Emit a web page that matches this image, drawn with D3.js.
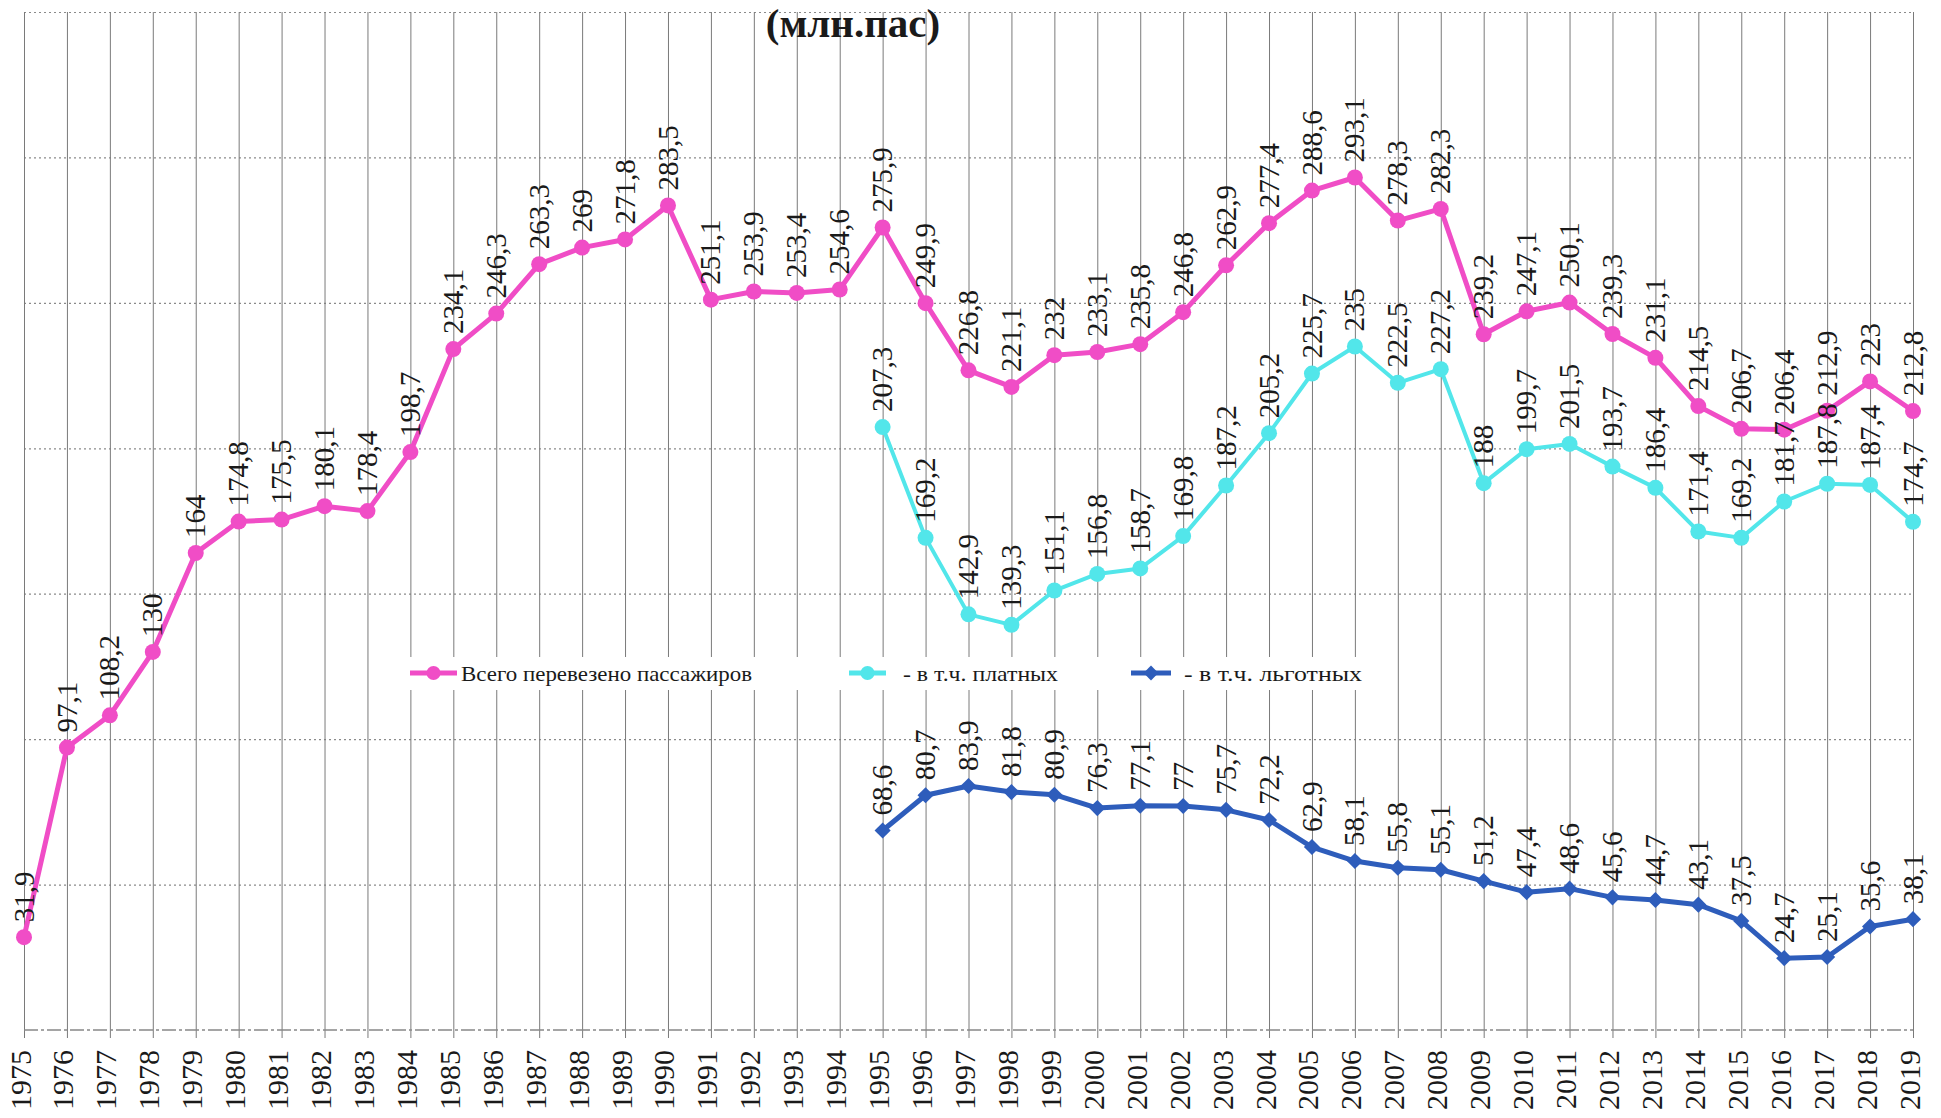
<!DOCTYPE html>
<html><head><meta charset="utf-8">
<script src="https://cdn.jsdelivr.net/npm/d3@7"></script>
<style>body{margin:0;background:#fff}svg{display:block}</style>
</head><body><svg id="c" width="1941" height="1118"></svg>
<script>
const years = [1975,1976,1977,1978,1979,1980,1981,1982,1983,1984,1985,1986,1987,1988,1989,1990,
  1991,1992,1993,1994,1995,1996,1997,1998,1999,2000,2001,2002,2003,2004,2005,2006,2007,2008,2009,
  2010,2011,2012,2013,2014,2015,2016,2017,2018,2019];
const totalValues = [31.9,97.1,108.2,130,164,174.8,175.5,180.1,178.4,198.7,234.1,246.3,263.3,269,271.8,283.5,
  251.1,253.9,253.4,254.6,275.9,249.9,226.8,221.1,232,233.1,235.8,246.8,262.9,277.4,288.6,293.1,278.3,282.3,239.2,
  247.1,250.1,239.3,231.1,214.5,206.7,206.4,212.9,223,212.8];
const subYears = [1995,1996,1997,1998,1999,2000,2001,2002,2003,2004,2005,2006,2007,2008,2009,
  2010,2011,2012,2013,2014,2015,2016,2017,2018,2019];
const paidValues = [207.3,169.2,142.9,139.3,151.1,156.8,158.7,169.8,187.2,205.2,225.7,235,222.5,227.2,188,
  199.7,201.5,193.7,186.4,171.4,169.2,181.7,187.8,187.4,174.7];
const privValues = [68.6,80.7,83.9,81.8,80.9,76.3,77.1,77,75.7,72.2,62.9,58.1,55.8,55.1,51.2,
  47.4,48.6,45.6,44.7,43.1,37.5,24.7,25.1,35.6,38.1];
const gridValues = [50,100,150,200,250,300,350];
const titleText = "(млн.пас)";
const legendLabels = ["Всего перевезено пассажиров", "- в т.ч. платных", "- в т.ч. льготных"];

const FONT = "'Liberation Serif','Times New Roman',serif";
const PINK = "#f04dc6", CYAN = "#52e6ea", BLUE = "#2e5dbb";
const svg = d3.select("#c");
const L = 24, R = 1913, T = 12, B = 1030;
const x = d3.scalePoint().domain(years).range([L, R]);
const y = d3.scaleLinear().domain([0, 350]).range([B, T]);
const fmt = v => String(v).replace(".", ",");

// horizontal gridlines (dotted)
const gy = svg.append("g").attr("transform", `translate(${L},0)`)
  .call(d3.axisLeft(y).tickValues(gridValues).tickSize(-(R - L)).tickFormat(""));
gy.select(".domain").remove();
gy.selectAll("line").attr("stroke", "#8a8a8a").attr("stroke-width", 1.2).attr("stroke-dasharray", "2,3");

// vertical gridlines
const gx = svg.append("g").attr("transform", `translate(0,${B + 8})`)
  .call(d3.axisBottom(x).tickSize(-(B + 8 - T)).tickFormat(""));
gx.select(".domain").remove();
gx.selectAll("line").attr("stroke", "#7a7a7a").attr("stroke-width", 1);

// bottom axis line
svg.append("line").attr("x1", L).attr("x2", R).attr("y1", y(0)).attr("y2", y(0))
  .attr("stroke", "#888").attr("stroke-width", 1.6).attr("stroke-dasharray", "14,3,3,3");

// year labels
const xl = svg.append("g").attr("transform", `translate(0,${B + 20})`)
  .call(d3.axisBottom(x).tickSize(0).tickPadding(0));
xl.select(".domain").remove();
xl.selectAll("text")
  .attr("transform", "rotate(-90)")
  .attr("text-anchor", "end")
  .attr("x", 0).attr("y", 0).attr("dy", "0.2em")
  .attr("font-family", FONT).attr("font-size", 30).attr("fill", "#1a1a1a");

// title
svg.append("text").attr("x", 853).attr("y", 37).attr("text-anchor", "middle")
  .attr("font-family", FONT).attr("font-weight", "bold").attr("font-size", 41)
  .attr("fill", "#1a1a1a").text(titleText);

// legend box
svg.append("rect").attr("x", 370).attr("y", 657).attr("width", 1005).attr("height", 33).attr("fill", "#fff");

function series(xs, vs, color, width, marker) {
  const pts = xs.map((d, i) => [d, vs[i]]);
  svg.append("path").datum(pts)
    .attr("fill", "none").attr("stroke", color).attr("stroke-width", width)
    .attr("stroke-linejoin", "round")
    .attr("d", d3.line().x(d => x(d[0])).y(d => y(d[1])));
  const g = svg.append("g");
  if (marker === "circle") {
    g.selectAll("circle").data(pts).join("circle")
      .attr("cx", d => x(d[0])).attr("cy", d => y(d[1])).attr("r", 8).attr("fill", color);
  } else {
    g.selectAll("path").data(pts).join("path")
      .attr("d", d3.symbol().type(d3.symbolSquare).size(130))
      .attr("transform", d => `translate(${x(d[0])},${y(d[1])}) rotate(45)`)
      .attr("fill", color);
  }
  svg.append("g").selectAll("text").data(pts).join("text")
    .attr("transform", d => `translate(${x(d[0])},${y(d[1]) - 15}) rotate(-90)`)
    .attr("dy", "0.33em").attr("text-anchor", "start")
    .attr("font-family", FONT).attr("font-size", 29).attr("fill", "#1a1a1a")
    .text(d => fmt(d[1]));
}
series(years, totalValues, PINK, 5, "circle");
series(subYears, paidValues, CYAN, 4, "circle");
series(subYears, privValues, BLUE, 5, "diamond");

// legend
const legend = [
  {label: legendLabels[0], color: PINK, x1: 410, x2: 457, tx: 461, m: "circle", w: 291},
  {label: legendLabels[1], color: CYAN, x1: 849, x2: 886, tx: 903, m: "circle", w: 155},
  {label: legendLabels[2], color: BLUE, x1: 1131, x2: 1171, tx: 1184, m: "diamond", w: 178}
];
const ly = 673;
legend.forEach(l => {
  svg.append("line").attr("x1", l.x1).attr("x2", l.x2).attr("y1", ly).attr("y2", ly)
    .attr("stroke", l.color).attr("stroke-width", 5);
  const cx = (l.x1 + l.x2) / 2;
  if (l.m === "circle") svg.append("circle").attr("cx", cx).attr("cy", ly).attr("r", 7).attr("fill", l.color);
  else svg.append("path").attr("d", d3.symbol().type(d3.symbolSquare).size(110)())
    .attr("transform", `translate(${cx},${ly}) rotate(45)`).attr("fill", l.color);
  svg.append("text").attr("x", l.tx).attr("y", ly).attr("dy", "0.35em")
    .attr("font-family", FONT).attr("font-size", 22).attr("fill", "#1a1a1a")
    .attr("textLength", l.w).attr("lengthAdjust", "spacingAndGlyphs")
    .text(l.label);
});
</script></body></html>
